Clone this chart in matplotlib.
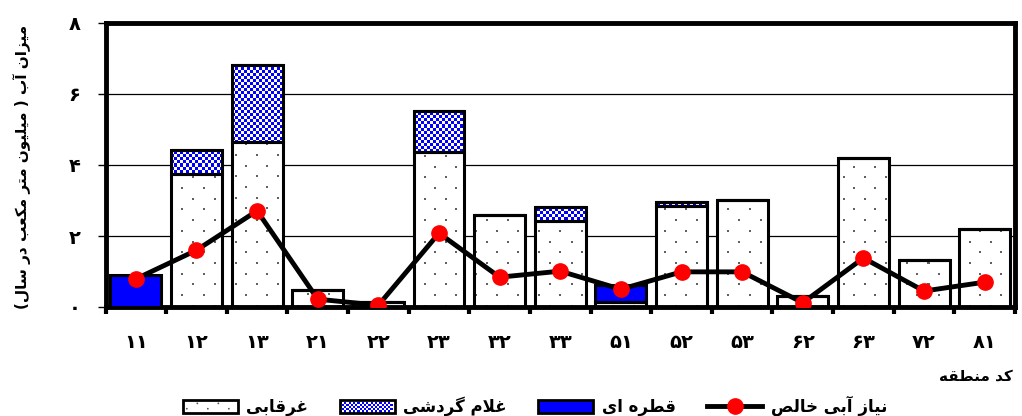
import numpy as np
import matplotlib
matplotlib.use("Agg")
from matplotlib import pyplot as plt
from matplotlib.patches import Rectangle, Circle
from matplotlib.lines import Line2D
from matplotlib.legend_handler import HandlerBase

# region codes and water volumes (million m3 / year)
codes = ['11', '12', '13', '21', '22', '23', '32', '33', '51', '52', '53', '62', '63', '72', '81']
gharqabi = [0, 3.74, 4.65, 0.48, 0.14, 4.36, 2.58, 2.41, 0.15, 2.84, 3.0, 0.32, 4.19, 1.32, 2.19]
ghalam = [0, 0.68, 2.17, 0, 0, 1.17, 0, 0.40, 0, 0.11, 0, 0, 0, 0, 0]
qatre = [0.9, 0, 0, 0, 0, 0, 0, 0, 0.47, 0, 0, 0, 0, 0, 0]
niaz = [0.79, 1.6, 2.71, 0.22, 0.05, 2.08, 0.84, 1.01, 0.5, 0.99, 0.99, 0.12, 1.38, 0.45, 0.7]
yticks = [0, 2, 4, 6, 8]

# --- tiny persian shaper (matplotlib has no bidi / joining) ---
LA = '\uFEFB'
FORMS = {
    'ا': ('\uFE8D', '\uFE8E', None, None),
    'آ': ('\uFE81', '\uFE82', None, None),
    'د': ('\uFEA9', '\uFEAA', None, None),
    'ر': ('\uFEAD', '\uFEAE', None, None),
    'ز': ('\uFEAF', '\uFEB0', None, None),
    'و': ('\uFEED', '\uFEEE', None, None),
    LA: ('\uFEFB', '\uFEFC', None, None),
    'ب': ('\uFE8F', '\uFE90', '\uFE91', '\uFE92'),
    'ت': ('\uFE95', '\uFE96', '\uFE97', '\uFE98'),
    'خ': ('\uFEA5', '\uFEA6', '\uFEA7', '\uFEA8'),
    'س': ('\uFEB1', '\uFEB2', '\uFEB3', '\uFEB4'),
    'ش': ('\uFEB5', '\uFEB6', '\uFEB7', '\uFEB8'),
    'ص': ('\uFEB9', '\uFEBA', '\uFEBB', '\uFEBC'),
    'ط': ('\uFEC1', '\uFEC2', '\uFEC3', '\uFEC4'),
    'ع': ('\uFEC9', '\uFECA', '\uFECB', '\uFECC'),
    'غ': ('\uFECD', '\uFECE', '\uFECF', '\uFED0'),
    'ق': ('\uFED5', '\uFED6', '\uFED7', '\uFED8'),
    'ل': ('\uFEDD', '\uFEDE', '\uFEDF', '\uFEE0'),
    'م': ('\uFEE1', '\uFEE2', '\uFEE3', '\uFEE4'),
    'ن': ('\uFEE5', '\uFEE6', '\uFEE7', '\uFEE8'),
    'ه': ('\uFEE9', '\uFEEA', '\uFEEB', '\uFEEC'),
    'ی': ('\uFBFC', '\uFBFD', '\uFBFE', '\uFBFF'),
    'ک': ('\uFB8E', '\uFB8F', '\uFB90', '\uFB91'),
    'گ': ('\uFB92', '\uFB93', '\uFB94', '\uFB95'),
}


def fa(text):
    chars = list(text.replace('لا', LA))
    out = []
    for i, c in enumerate(chars):
        if c not in FORMS:
            out.append(c)
            continue
        prev = chars[i - 1] if i > 0 else ''
        nxt = chars[i + 1] if i + 1 < len(chars) else ''
        jp = prev in FORMS and FORMS[prev][2] is not None
        jn = FORMS[c][2] is not None and nxt in FORMS
        iso, fin, ini, med = FORMS[c]
        if jp and jn:
            out.append(med)
        elif jp:
            out.append(fin)
        elif jn:
            out.append(ini)
        else:
            out.append(iso)
    s = ''.join(out)[::-1]
    return s.translate(str.maketrans('()', ')('))


def fa_digits(s):
    return s.translate(str.maketrans('0123456789', '۰۱۲۳۴۵۶۷۸۹'))


plt.rcParams['font.family'] = ['DejaVu Sans']
plt.rcParams['font.weight'] = 'bold'

W, H = 1022, 416
fig = plt.figure(figsize=(W / 100, H / 100), dpi=100)
ax_l, ax_b, ax_w, ax_h = 105.5 / W, 109 / H, 909.5 / W, 284 / H
ax = fig.add_axes([ax_l, ax_b, ax_w, ax_h])

# pixel-space fill textures
pw, ph = int(round(ax_w * W)), int(round(ax_h * H))
dots = np.ones((ph, pw, 3))
for r, yy in enumerate(np.arange(4, ph, 10.7)):
    off = 0 if r % 2 == 0 else 10.5
    for xx in np.arange(3 + off, pw, 21):
        iy, ix = int(yy), int(xx)
        dots[iy:iy + 2, ix:ix + 2] = 0.38
yy, xx = np.mgrid[0:ph, 0:pw]
chk = ((yy // 3 + xx // 3) % 2 == 0)
checker = np.ones((ph, pw, 3))
checker[chk] = [0, 0, 1]

x = np.arange(len(codes))
bw = 0.84
g = np.array(gharqabi)
gl = np.array(ghalam)
q = np.array(qatre)
ext = (-0.5, len(codes) - 0.5, 0, 8)

ax.set_axisbelow(True)
ax.yaxis.grid(True, color='black', linewidth=0.9)

b1 = ax.bar(x, g, bw, facecolor='none', edgecolor='black', linewidth=2.2, zorder=3)
b2 = ax.bar(x, gl, bw, bottom=g, facecolor='none', edgecolor='black', linewidth=2.2, zorder=3)
b3 = ax.bar(x, q, bw, bottom=g + gl, facecolor='#0000FF', edgecolor='black', linewidth=2.2, zorder=3)
for bars, vals, tex in [(b1, g, dots), (b2, gl, checker)]:
    for rect, v in zip(bars, vals):
        if v <= 0:
            continue
        im = ax.imshow(tex, extent=ext, aspect='auto', interpolation='nearest', zorder=2)
        im.set_clip_path(rect)

ax.plot(x, niaz, color='black', linewidth=3.5, marker='o', markersize=11,
        markerfacecolor='red', markeredgecolor='red', zorder=5)

ax.set_xlim(-0.5, len(codes) - 0.5)
ax.set_ylim(0, 8)
for s in ax.spines.values():
    s.set_linewidth(3.5)

ax.set_yticks(yticks)
ax.set_yticklabels([fa_digits(str(t)) for t in yticks], fontsize=14, fontweight='bold')
ax.tick_params(axis='y', direction='out', length=6, width=1, pad=12)
ax.set_xticks(np.arange(len(codes) + 1) - 0.5)
ax.set_xticklabels([])
ax.tick_params(axis='x', which='major', direction='out', length=5, width=3)
ax.set_xticks(x, minor=True)
ax.set_xticklabels([fa_digits(c) for c in codes], minor=True, fontsize=14, fontweight='bold')
ax.tick_params(axis='x', which='minor', length=0, pad=19)

fig.text(1013 / W, 1 - 376 / H, fa('کد منطقه'), ha='right', va='center', fontsize=11, fontweight='bold')
fig.text(22 / W, 1 - 167 / H, fa('میزان آب ( میلیون متر مکعب در سال)'), rotation=90,
         ha='center', va='center', fontsize=11, fontweight='bold')


class HandlerTex(HandlerBase):
    def __init__(self, kind):
        super().__init__()
        self.kind = kind

    def create_artists(self, legend, orig_handle, xdescent, ydescent, width, height, fontsize, trans):
        x0, y0 = -xdescent, -ydescent
        arts = [Rectangle((x0, y0), width, height, facecolor='white' if self.kind != 'blue' else '#0000FF',
                          edgecolor='none', transform=trans)]
        px = 0.72
        if self.kind == 'checker':
            c = 2.2 * px
            nx, ny = int(width / c), int(height / c)
            for i in range(nx):
                for j in range(ny):
                    if (i + j) % 2 == 0:
                        arts.append(Rectangle((x0 + i * c, y0 + j * c), c, c,
                                              facecolor='#0000FF', edgecolor='none', transform=trans))
        elif self.kind == 'dots':
            for j, yy in enumerate([y0 + height * 0.3, y0 + height * 0.72]):
                off = 0 if j % 2 == 0 else 10.5 * px
                xs = np.arange(x0 + 4 * px + off, x0 + width - 2 * px, 21 * px)
                for xv in xs:
                    arts.append(Circle((xv, yy), 0.9 * px, facecolor='#555555', edgecolor='none', transform=trans))
        arts.append(Rectangle((x0, y0), width, height, facecolor='none', edgecolor='black',
                              linewidth=2, transform=trans))
        return arts


h_dots = Rectangle((0, 0), 1, 1)
h_chk = Rectangle((0, 0), 1, 1)
h_blue = Rectangle((0, 0), 1, 1)
h_line = Line2D([], [], color='black', linewidth=3.5, marker='o', markersize=11,
                markerfacecolor='red', markeredgecolor='red')
fig.legend([h_dots, h_chk, h_blue, h_line],
           [fa('غرقابی'), fa('غلام گردشی'), fa('قطره ای'), fa('نیاز آبی خالص')],
           handler_map={h_dots: HandlerTex('dots'), h_chk: HandlerTex('checker'), h_blue: HandlerTex('blue')},
           loc='center', bbox_to_anchor=(535 / W, 1 - 406 / H), ncol=4, frameon=False,
           handlelength=3.3, handleheight=0.8, columnspacing=1.9, handletextpad=0.5,
           prop={'weight': 'bold', 'size': 12})

fig.savefig('out.png', dpi=100)
